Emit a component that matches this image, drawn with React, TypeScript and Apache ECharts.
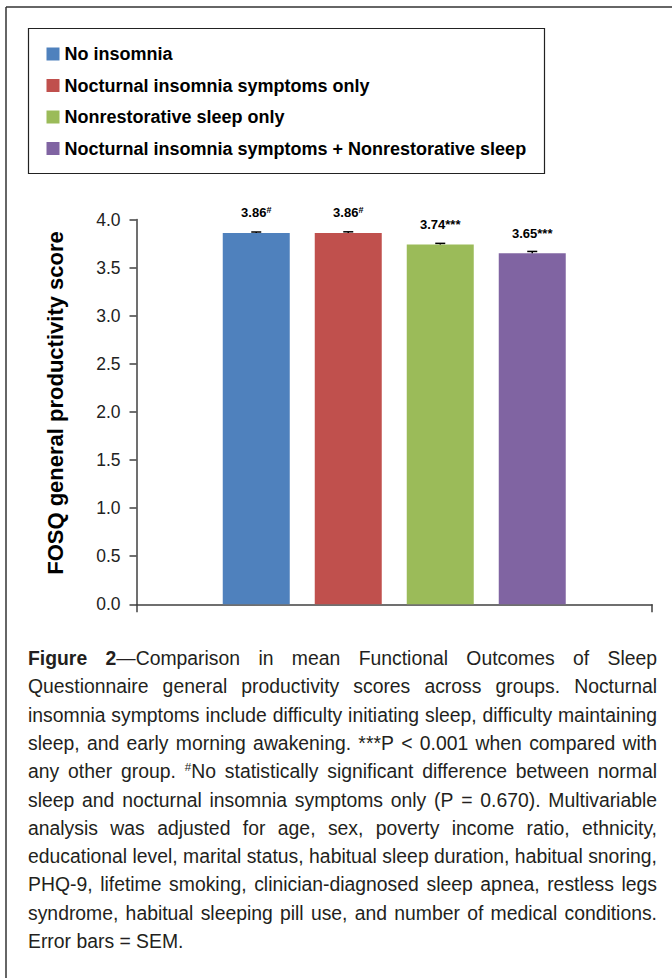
import React, { useEffect, useRef } from "react";
import * as echarts from "echarts";

const PAGE_W = 672;
const PAGE_H = 978;

const categories = [""];
const seriesNames = [
  "No insomnia",
  "Nocturnal insomnia symptoms only",
  "Nonrestorative sleep only",
  "Nocturnal insomnia symptoms + Nonrestorative sleep",
];
const seriesColors = ["#4F81BD", "#C0504D", "#9BBB59", "#8064A2"];
const meanScores = [3.86, 3.86, 3.74, 3.65];
const semValues = [0.01, 0.012, 0.012, 0.018];
const significanceMarks = ["#", "#", "***", "***"];
const yMin = 0;
const yMax = 4;
const yInterval = 0.5;
const yAxisTitle = "FOSQ general productivity score";

const captionLines = [
  "{b:Figure} {b:2}—Comparison in mean Functional Outcomes of Sleep",
  "Questionnaire general productivity scores across groups. Nocturnal",
  "insomnia symptoms include difficulty initiating sleep, difficulty maintaining",
  "sleep, and early morning awakening. ***P < 0.001 when compared with",
  "any other group. {sup:#}No statistically significant difference between normal",
  "sleep and nocturnal insomnia symptoms only (P = 0.670). Multivariable",
  "analysis was adjusted for age, sex, poverty income ratio, ethnicity,",
  "educational level, marital status, habitual sleep duration, habitual snoring,",
  "PHQ-9, lifetime smoking, clinician-diagnosed sleep apnea, restless legs",
  "syndrome, habitual sleeping pill use, and number of medical conditions.",
  "Error bars = SEM.",
];

const FONT = '"Liberation Sans", Arial, Helvetica, sans-serif';
const NARROW = '"Liberation Sans Narrow", "Arial Narrow"';
const BAR_W = 67;
const BAR_GAP_PX = 25;

type Seg = { text: string; kind: "r" | "b" | "sup" };

function parseWord(word: string): Seg[] {
  const re = /\{(b|sup):([^}]*)\}|([^{]+)/g;
  const out: Seg[] = [];
  let m: RegExpExecArray | null;
  while ((m = re.exec(word))) {
    if (m[1]) out.push({ text: m[2], kind: m[1] as "b" | "sup" });
    else out.push({ text: m[3], kind: "r" });
  }
  return out;
}

function getCtx() {
  const canvas = document.createElement("canvas");
  return canvas.getContext("2d")!;
}

function hasNarrow(): boolean {
  const ctx = getCtx();
  ctx.font = `40px ${NARROW}, monospace`;
  const a = ctx.measureText("4.0 abcdefghij").width;
  ctx.font = "40px monospace";
  const b = ctx.measureText("4.0 abcdefghij").width;
  return Math.abs(a - b) > 0.5;
}

function buildCaption(): any[] {
  const ctx = getCtx();
  const measure = (t: string, size: number, bold: boolean) => {
    ctx.font = `${bold ? "bold " : ""}${size}px ${FONT}`;
    return ctx.measureText(t).width;
  };
  const left = 28;
  const right = 657;
  const top = 658;
  const lh = 28.3;
  const lineW = right - left;
  // pick font size so the widest line fits with natural spacing
  const baseFs = 18;
  let maxNat = 0;
  captionLines.slice(0, -1).forEach((line) => {
    const words = line.split(" ").map(parseWord);
    let w = 0;
    words.forEach((wd) => wd.forEach((s) => (w += measure(s.text, s.kind === "sup" ? 11 : baseFs, s.kind === "b"))));
    w += (words.length - 1) * measure(" ", baseFs, false);
    maxNat = Math.max(maxNat, w);
  });
  const CAP_FS = Math.min(20, baseFs * (lineW / maxNat));
  const SUP_FS = CAP_FS * 0.6;
  const els: any[] = [];
  captionLines.forEach((line, li) => {
    const words = line.split(" ").map(parseWord);
    const segW = words.map((w) =>
      w.map((s) => measure(s.text, s.kind === "sup" ? SUP_FS : CAP_FS, s.kind === "b"))
    );
    const widths = segW.map((a) => a.reduce((p, c) => p + c, 0));
    const total = widths.reduce((p, c) => p + c, 0);
    const isLast = li === captionLines.length - 1;
    const gap = isLast
      ? measure(" ", CAP_FS, false)
      : (lineW - total) / Math.max(1, words.length - 1);
    let x = left;
    const y = top + li * lh;
    words.forEach((w, wi) => {
      let sx = x;
      w.forEach((s, si) => {
        els.push({
          type: "text",
          x: sx,
          y: s.kind === "sup" ? y - 5 : y,
          silent: true,
          style: {
            text: s.text,
            fontFamily: FONT,
            fontSize: s.kind === "sup" ? SUP_FS : CAP_FS,
            fontWeight: s.kind === "b" ? "bold" : "normal",
            fill: "#231f20",
            align: "left",
            verticalAlign: "middle",
          },
        });
        sx += segW[wi][si];
      });
      x += widths[wi] + gap;
    });
  });
  return els;
}

export default function App() {
  const ref = useRef<HTMLDivElement>(null);
  useEffect(() => {
    if (!ref.current) return;
    const chart = echarts.init(ref.current, undefined, { renderer: "svg" });
    const n = meanScores.length;
    const narrowOk = hasNarrow();
    const tickFont = narrowOk ? `${NARROW}, ${FONT}` : FONT;
    const tickSize = narrowOk ? 21 : 17.5;

    const barSeries = seriesNames.map((name, i) => ({
      type: "bar",
      name,
      barWidth: BAR_W,
      barGap: `${(BAR_GAP_PX / BAR_W) * 100}%`,
      itemStyle: { color: seriesColors[i] },
      data: [meanScores[i]],
      label: {
        show: true,
        position: "top",
        distance: 13,
        formatter: (p: any) =>
          significanceMarks[i] === "#"
            ? `{v|${p.value.toFixed(2)}}{s|${significanceMarks[i]}}`
            : `{v|${p.value.toFixed(2)}}{a|${significanceMarks[i]}}`,
        rich: {
          v: { fontFamily: FONT, fontSize: 13, fontWeight: "bold", color: "#000", lineHeight: 14 },
          s: { fontFamily: FONT, fontSize: 9, fontWeight: "bold", color: "#000", verticalAlign: "top", lineHeight: 14 },
          a: { fontFamily: FONT, fontSize: 13, fontWeight: "bold", color: "#000", lineHeight: 14 },
        },
      },
      z: 2,
    }));

    const errorSeries = {
      type: "custom",
      name: "SEM",
      z: 5,
      renderItem: (_params: any, api: any) => {
        const idx = api.value(3);
        const p0 = api.coord([api.value(0), api.value(1)]);
        const p1 = api.coord([api.value(0), api.value(1) + api.value(2)]);
        const x = p0[0] + (idx - (n - 1) / 2) * (BAR_W + BAR_GAP_PX);
        return {
          type: "group",
          children: [
            { type: "line", shape: { x1: x, y1: p0[1], x2: x, y2: p1[1] }, style: { stroke: "#000", lineWidth: 1.5 } },
            { type: "line", shape: { x1: x - 5, y1: p1[1], x2: x + 5, y2: p1[1] }, style: { stroke: "#000", lineWidth: 1.5 } },
          ],
        };
      },
      data: meanScores.map((v, i) => [0, v, semValues[i], i]),
    };

    const graphics: any[] = [
      { type: "line", silent: true, shape: { x1: 6, y1: 7, x2: PAGE_W + 5, y2: 7 }, style: { stroke: "#333", lineWidth: 1.5 } },
      { type: "line", silent: true, shape: { x1: 6, y1: 7, x2: 6, y2: PAGE_H + 5 }, style: { stroke: "#333", lineWidth: 1.5 } },
      { type: "rect", silent: true, shape: { x: 28.5, y: 28.5, width: 516, height: 145 }, style: { stroke: "#222", lineWidth: 1.2, fill: "none" } },
      {
        type: "text",
        silent: true,
        x: 55,
        y: 403,
        rotation: Math.PI / 2,
        style: {
          text: yAxisTitle,
          fontFamily: FONT,
          fontSize: 22,
          fontWeight: "bold",
          fill: "#000",
          align: "center",
          verticalAlign: "middle",
        },
      },
      ...buildCaption(),
    ];

    chart.setOption({
      animation: false,
      backgroundColor: "#fff",
      legend: {
        show: true,
        data: seriesNames,
        orient: "vertical",
        left: 46.5,
        top: 45,
        padding: 0,
        itemWidth: 13,
        itemHeight: 13,
        itemGap: 13.5,
        icon: "rect",
        selectedMode: false,
        textStyle: { fontFamily: FONT, fontSize: 18, fontWeight: "bold", color: "#000" },
      },
      grid: { left: 136.5, right: 20, top: 219.5, bottom: 373.7, containLabel: false },
      xAxis: {
        type: "category",
        data: categories,
        axisLine: { lineStyle: { color: "#404040", width: 1.5 } },
        axisTick: { show: true, length: 8, lineStyle: { color: "#404040", width: 1.5 } },
        axisLabel: { show: false },
      },
      yAxis: {
        type: "value",
        min: yMin,
        max: yMax,
        interval: yInterval,
        splitLine: { show: false },
        axisLine: { show: true, lineStyle: { color: "#404040", width: 1.5 } },
        axisTick: { show: true, length: 7, lineStyle: { color: "#404040", width: 1.5 } },
        axisLabel: {
          margin: 16,
          fontFamily: tickFont,
          fontSize: tickSize,
          color: "#222",
          formatter: (v: number) => v.toFixed(1),
        },
      },
      graphic: graphics,
      series: [...barSeries, errorSeries],
    });
    return () => chart.dispose();
  }, []);
  return (
    <div
      ref={ref}
      style={{ position: "fixed", left: 0, top: 0, width: PAGE_W, height: PAGE_H, background: "#fff" }}
    />
  );
}
